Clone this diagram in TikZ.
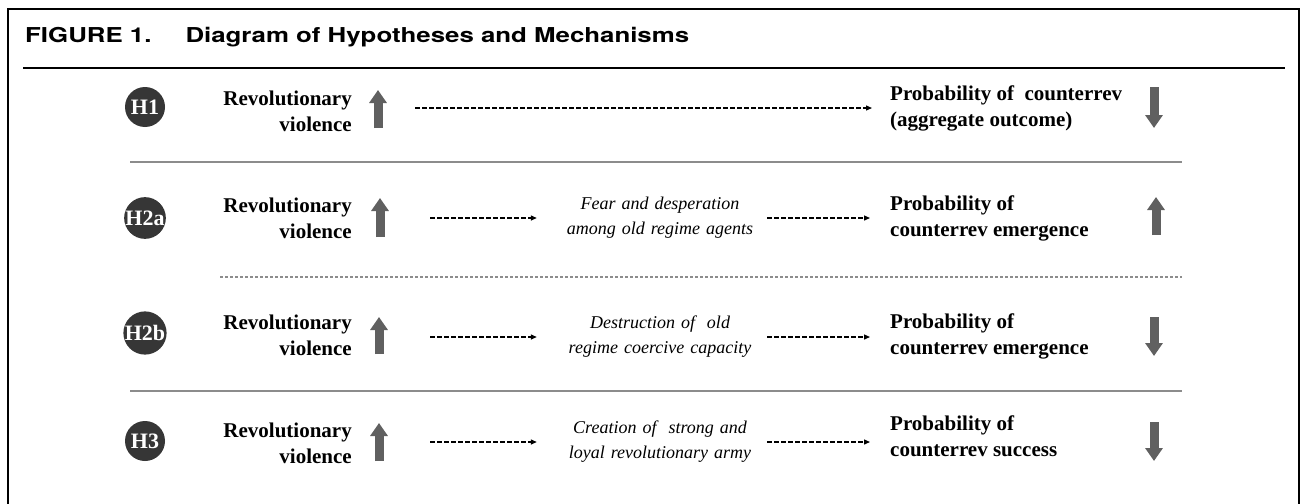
\documentclass[tikz,border=0pt]{standalone}
\usepackage{fontspec}
\setmainfont{Liberation Serif}
\newfontfamily\titlefont[FakeStretch=1.26]{TeX Gyre Heros}
\usetikzlibrary{arrows.meta}
\definecolor{hdark}{HTML}{363636}
\definecolor{trendgray}{HTML}{606060}
\definecolor{rulegray}{HTML}{8C8C8C}

\begin{document}
\begin{tikzpicture}[x=1pt, y=-1pt,
        hyp/.style={circle, fill=hdark, minimum size=40pt, inner sep=0pt, text=white, font=\fontsize{22}{22}\selectfont\bfseries},
        cause/.style={anchor=east, align=right, inner sep=0pt, font=\fontsize{21}{26}\selectfont\bfseries},
        outcome/.style={anchor=west, align=left, inner sep=0pt, font=\fontsize{21}{26}\selectfont\bfseries},
        mech/.style={text width=210pt, align=center, inner sep=0pt, font=\fontsize{18}{25}\selectfont\itshape},
        trend/.style={draw=trendgray, line width=9pt, -{Triangle[length=13pt, width=17pt]}},
        causal/.style={draw=black, line width=1.3pt, dash pattern=on 4.5pt off 2.5pt, -{Triangle[length=6pt, width=5pt]}},
        rowline/.style={draw=rulegray, line width=1.5pt}]
                \useasboundingbox[fill=white] (0, 0) rectangle (1300, 503);
                \draw[line width=2pt] (8, 520) -- (8, 9) -- (1299, 9) -- (1299, 520);
                \node[anchor=base west, inner sep=0pt, font=\titlefont\bfseries\fontsize{20.5}{20.5}\selectfont] (title) at (25, 43) {FIGURE 1.\hspace{34pt}Diagram of Hypotheses and Mechanisms};
                \draw[line width=2.5pt] (23, 68) -- (1285, 68);

                \node[hyp] (h1) at (145, 107) {H1};
                \node[cause] (h1 cause) at (352, 111) {Revolutionary\\violence};
                \draw[trend] (378, 128) -- (378, 90);
                \node[outcome] (h1 outcome) at (890, 108) {Probability of\ \ counterrev\\(aggregate outcome)};
                \draw[trend] (1154, 87) -- (1154, 128);
                \coordinate (h1 tail) at (415, 108);
                \draw[causal, shorten >=18pt] (h1 tail) -- (h1 tail -| h1 outcome.west);
                \draw[rowline] (130, 162) -- (1182, 162);

                \node[hyp] (h2a) at (145, 218) {H2a};
                \node[cause] (h2a cause) at (352, 218) {Revolutionary\\violence};
                \draw[trend] (380, 237) -- (380, 198);
                \node[mech] (h2a mech) at (660, 218) {Fear and desperation\\among old regime agents};
                \node[outcome] (h2a outcome) at (890, 218) {Probability of\\counterrev emergence};
                \draw[trend] (1156, 235) -- (1156, 197);
                \coordinate (h2a tail) at (430, 218);
                \draw[causal, shorten >=18pt] (h2a tail) -- (h2a tail -| h2a mech.west);
                \draw[causal, shorten <=2pt, shorten >=20pt] (h2a mech.east) -- (h2a mech.east -| h2a outcome.west);
                \draw[rowline, dash pattern=on 3pt off 2pt] (220, 277) -- (1182, 277);

                \node[hyp] (h2b) at (145, 333) {H2b};
                \node[cause] (h2b cause) at (352, 335) {Revolutionary\\violence};
                \draw[trend] (379, 354) -- (379, 317);
                \node[mech] (h2b mech) at (660, 337) {Destruction of\ \ old\\regime coercive capacity};
                \node[outcome] (h2b outcome) at (890, 336) {Probability of\\counterrev emergence};
                \draw[trend] (1154, 317) -- (1154, 356);
                \coordinate (h2b tail) at (430, 337);
                \draw[causal, shorten >=18pt] (h2b tail) -- (h2b tail -| h2b mech.west);
                \draw[causal, shorten <=2pt, shorten >=20pt] (h2b mech.east) -- (h2b mech.east -| h2b outcome.west);
                \draw[rowline] (130, 391) -- (1182, 391);

                \node[hyp] (h3) at (145, 441) {H3};
                \node[cause] (h3 cause) at (352, 443) {Revolutionary\\violence};
                \draw[trend] (379, 461) -- (379, 423);
                \node[mech] (h3 mech) at (660, 442) {Creation of\ \ strong and\\loyal revolutionary army};
                \node[outcome] (h3 outcome) at (890, 436) {Probability of\\counterrev success};
                \draw[trend] (1154, 422) -- (1154, 461);
                \coordinate (h3 tail) at (430, 442);
                \draw[causal, shorten >=18pt] (h3 tail) -- (h3 tail -| h3 mech.west);
                \draw[causal, shorten <=2pt, shorten >=20pt] (h3 mech.east) -- (h3 mech.east -| h3 outcome.west);
\end{tikzpicture}
\end{document}
